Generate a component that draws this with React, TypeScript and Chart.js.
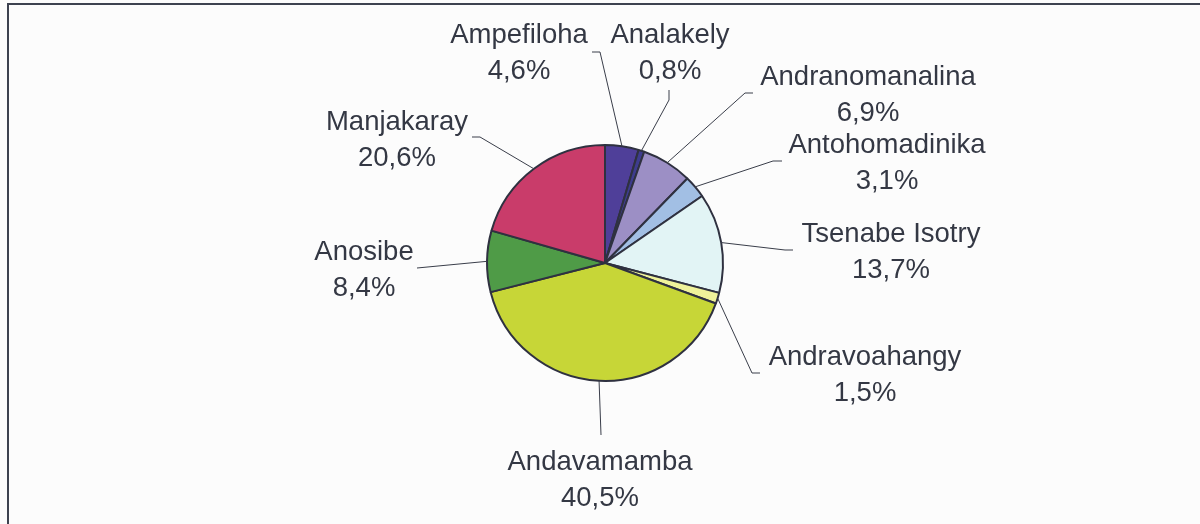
import React, { useEffect, useRef } from "react";
import { Chart, registerables } from "chart.js";

Chart.register(...registerables);

const categories = [
  "Ampefiloha",
  "Analakely",
  "Andranomanalina",
  "Antohomadinika",
  "Tsenabe Isotry",
  "Andravoahangy",
  "Andavamamba",
  "Anosibe",
  "Manjakaray",
];
const shares = [4.6, 0.8, 6.9, 3.1, 13.7, 1.5, 40.5, 8.4, 20.6];
const percentLabels = ["4,6%", "0,8%", "6,9%", "3,1%", "13,7%", "1,5%", "40,5%", "8,4%", "20,6%"];
const sliceColors = [
  "#4f3f99",
  "#3e3c8e",
  "#9c8fc5",
  "#a2bfe4",
  "#e2f4f5",
  "#eff29a",
  "#c7d637",
  "#4f9b47",
  "#c93c6a",
];

// label layout relative to pie centre: [textX, baselineY, elbowX, elbowY, endX, endY]
const labelLayout: number[][] = [
  [-86, -220, -5, -211, -13, -211],
  [65, -220, 64, -163, 64, -173],
  [263, -178, 140, -170, 148, -170],
  [282, -110, 168, -102, 177, -102],
  [286, -21, 180, -13, 188, -13],
  [260, 102, 147, 110, 155, 110],
  [-5, 207, -4, 172, -4, 172],
  [-241, -3, -188, 5, -188, 5],
  [-208, -133, -125, -126, -133, -126],
];

const TEXT_COLOR = "#343844";
const LINE_COLOR = "#3a3e4a";
const FONT = "27.5px 'Liberation Sans', Arial, sans-serif";
const LINE_GAP = 35.5;

const framePlugin = {
  id: "frame",
  beforeDraw(chart: any) {
    const ctx = chart.ctx;
    ctx.save();
    ctx.fillStyle = "#fcfcfc";
    ctx.fillRect(0, 0, chart.width, chart.height);
    ctx.strokeStyle = "#3d4250";
    ctx.lineWidth = 2;
    ctx.beginPath();
    ctx.moveTo(7, 4);
    ctx.lineTo(chart.width, 4);
    ctx.moveTo(8, 3);
    ctx.lineTo(8, chart.height);
    ctx.stroke();
    ctx.restore();
  },
};

const labelPlugin = {
  id: "pieLabels",
  afterDatasetsDraw(chart: any) {
    const ctx = chart.ctx;
    const meta = chart.getDatasetMeta(0);
    ctx.save();
    meta.data.forEach((arc: any, i: number) => {
      const { x, y, startAngle, endAngle, outerRadius } = arc.getProps(
        ["x", "y", "startAngle", "endAngle", "outerRadius"],
        true
      );
      const mid = (startAngle + endAngle) / 2;
      const ax = x + Math.cos(mid) * outerRadius;
      const ay = y + Math.sin(mid) * outerRadius;
      const L = labelLayout[i];
      ctx.strokeStyle = LINE_COLOR;
      ctx.lineWidth = 1;
      ctx.beginPath();
      ctx.moveTo(ax, ay);
      ctx.lineTo(x + L[2], y + L[3]);
      ctx.lineTo(x + L[4], y + L[5]);
      ctx.stroke();
      ctx.fillStyle = TEXT_COLOR;
      ctx.font = FONT;
      ctx.textAlign = "center";
      ctx.textBaseline = "alphabetic";
      ctx.fillText(categories[i], x + L[0], y + L[1]);
      ctx.fillText(percentLabels[i], x + L[0], y + L[1] + LINE_GAP);
    });
    ctx.restore();
  },
};

export default function App() {
  const canvasRef = useRef<HTMLCanvasElement | null>(null);

  useEffect(() => {
    document.body.style.margin = "0";
    const canvas = canvasRef.current;
    if (!canvas) return;
    const chart = new Chart(canvas, {
      type: "pie",
      data: {
        labels: categories,
        datasets: [
          {
            data: shares,
            backgroundColor: sliceColors,
            borderColor: "#2f3140",
            borderWidth: 2,
            hoverOffset: 0,
          },
        ],
      },
      options: {
        responsive: false,
        animation: false,
        layout: {
          padding: { left: 486, right: 476, top: 144, bottom: 142 },
        },
        plugins: {
          legend: { display: false },
          tooltip: { enabled: false },
        },
      },
      plugins: [framePlugin, labelPlugin],
    });
    return () => chart.destroy();
  }, []);

  return (
    <div style={{ width: 1200, height: 524 }}>
      <canvas ref={canvasRef} width={1200} height={524} />
    </div>
  );
}
